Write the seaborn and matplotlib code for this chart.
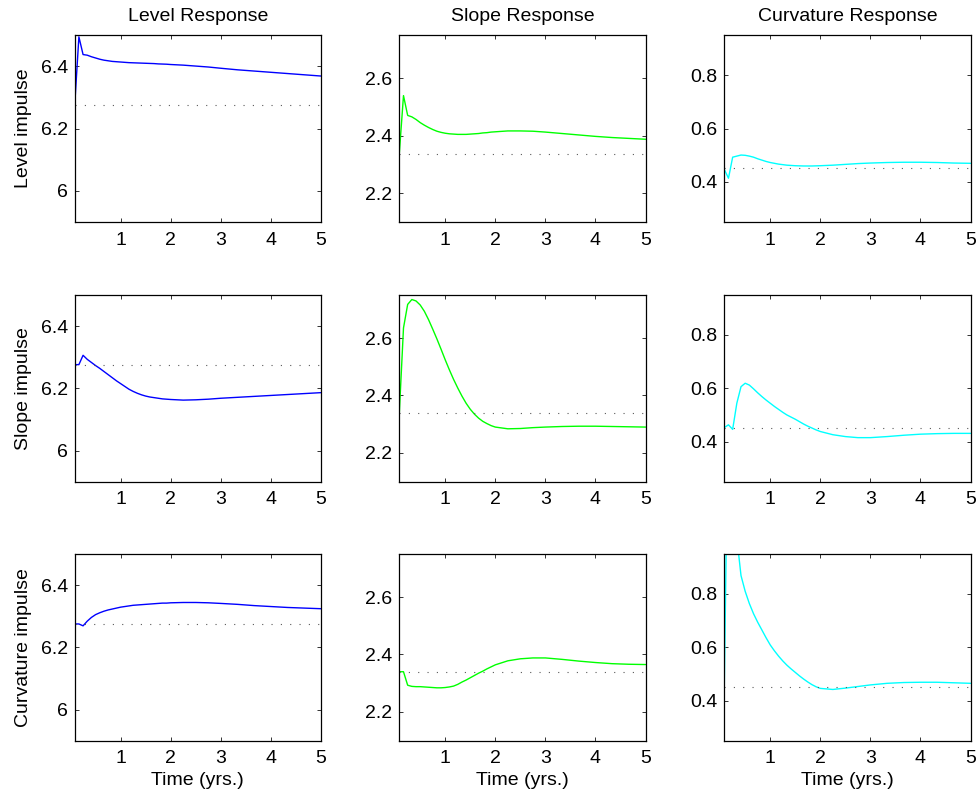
import numpy as np
import matplotlib
matplotlib.use("Agg")
import matplotlib.pyplot as plt
import seaborn as sns

# time grid in months (converted to years below)
months = list(range(1, 25)) + [27, 30, 33, 36, 40, 44, 48, 52, 56, 60]

# level response
level_lvl = [6.276, 6.495, 6.438, 6.436, 6.431, 6.427, 6.423, 6.420, 6.418, 6.416, 6.415, 6.414,
             6.413, 6.412, 6.4115, 6.411, 6.4105, 6.410, 6.4095, 6.409, 6.408, 6.4075, 6.407, 6.406,
             6.404, 6.401, 6.398, 6.394, 6.389, 6.385, 6.381, 6.377, 6.373, 6.369]
slope_lvl = [6.276, 6.276, 6.306, 6.293, 6.283, 6.273, 6.264, 6.254, 6.244, 6.234, 6.224, 6.215,
             6.206, 6.197, 6.190, 6.184, 6.179, 6.175, 6.172, 6.170, 6.168, 6.166, 6.165, 6.164,
             6.162, 6.163, 6.165, 6.168, 6.171, 6.174, 6.177, 6.180, 6.183, 6.186]
curv_lvl = [6.275, 6.275, 6.269, 6.284, 6.296, 6.305, 6.311, 6.316, 6.320, 6.323, 6.326, 6.329,
            6.331, 6.333, 6.335, 6.336, 6.337, 6.338, 6.339, 6.340, 6.341, 6.342, 6.342, 6.343,
            6.344, 6.344, 6.343, 6.341, 6.338, 6.334, 6.331, 6.328, 6.326, 6.324]

# slope response
level_slp = [2.339, 2.540, 2.471, 2.466, 2.457, 2.446, 2.437, 2.429, 2.422, 2.416, 2.412, 2.409,
             2.407, 2.406, 2.405, 2.405, 2.405, 2.406, 2.407, 2.408, 2.410, 2.411, 2.413, 2.414,
             2.417, 2.417, 2.416, 2.413, 2.408, 2.403, 2.398, 2.394, 2.391, 2.388]
slope_slp = [2.339, 2.635, 2.717, 2.734, 2.729, 2.715, 2.693, 2.664, 2.631, 2.597, 2.561, 2.524,
             2.489, 2.456, 2.426, 2.398, 2.373, 2.352, 2.335, 2.321, 2.310, 2.302, 2.295, 2.290,
             2.284, 2.285, 2.288, 2.290, 2.292, 2.293, 2.293, 2.292, 2.291, 2.290]
curv_slp = [2.340, 2.340, 2.293, 2.289, 2.288, 2.288, 2.287, 2.286, 2.285, 2.284, 2.284, 2.285,
            2.287, 2.290, 2.296, 2.304, 2.311, 2.319, 2.327, 2.335, 2.342, 2.350, 2.357, 2.364,
            2.378, 2.385, 2.388, 2.388, 2.383, 2.377, 2.372, 2.368, 2.366, 2.365]

# curvature response
level_crv = [0.447, 0.414, 0.493, 0.497, 0.501, 0.500, 0.497, 0.493, 0.487, 0.482, 0.477, 0.473,
             0.470, 0.467, 0.465, 0.463, 0.462, 0.461, 0.4605, 0.460, 0.460, 0.460, 0.4605, 0.461,
             0.463, 0.466, 0.469, 0.471, 0.473, 0.474, 0.474, 0.473, 0.471, 0.470]
slope_crv = [0.453, 0.463, 0.446, 0.544, 0.606, 0.619, 0.612, 0.598, 0.583, 0.569, 0.556, 0.544,
             0.532, 0.521, 0.510, 0.500, 0.492, 0.484, 0.475, 0.466, 0.458, 0.451, 0.444, 0.438,
             0.426, 0.419, 0.415, 0.415, 0.419, 0.424, 0.428, 0.430, 0.431, 0.431]
curv_crv = [0.456, 1.580, 1.250, 1.010, 0.869, 0.810, 0.764, 0.726, 0.694, 0.665, 0.636, 0.609,
            0.587, 0.567, 0.549, 0.533, 0.519, 0.506, 0.493, 0.481, 0.470, 0.460, 0.452, 0.446,
            0.442, 0.447, 0.453, 0.459, 0.465, 0.468, 0.469, 0.469, 0.467, 0.465]

baselines = [6.275, 2.338, 0.451]
col_titles = ["Level Response", "Slope Response", "Curvature Response"]
row_labels = ["Level impulse", "Slope impulse", "Curvature impulse"]
colors = ["#0000ff", "#00ff00", "#00ffff"]
ylims = [(5.9, 6.5), (2.1, 2.75), (0.25, 0.95)]
yticks = [[6, 6.2, 6.4], [2.2, 2.4, 2.6], [0.4, 0.6, 0.8]]
xticks = [1, 2, 3, 4, 5]

series = [[level_lvl, level_slp, level_crv],
          [slope_lvl, slope_slp, slope_crv],
          [curv_lvl, curv_slp, curv_crv]]

sns.set_style("ticks")
plt.rcParams["font.family"] = ["Liberation Sans", "DejaVu Sans"]
plt.rcParams["xtick.direction"] = "in"
plt.rcParams["ytick.direction"] = "in"
plt.rcParams["xtick.top"] = True
plt.rcParams["ytick.right"] = True
plt.rcParams["text.color"] = "black"
plt.rcParams["axes.labelcolor"] = "black"
plt.rcParams["xtick.labelcolor"] = "black"
plt.rcParams["ytick.labelcolor"] = "black"

t = np.array(months) / 12.0

fig = plt.figure(figsize=(9.78, 7.96), dpi=100)
lefts = [0.0764, 0.4083, 0.7406]
width = 0.2518
bottoms = [0.7211, 0.3949, 0.0695]
height = 0.2346

for r in range(3):
    for c in range(3):
        ax = fig.add_axes([lefts[c], bottoms[r], width, height])
        sns.lineplot(x=t, y=series[r][c], ax=ax, color=colors[c], linewidth=1.0)
        ax.plot([t[0], t[-1]], [baselines[c], baselines[c]], color="0.35",
                linestyle=(0, (1, 7.4)), linewidth=0.8)
        ax.set_xlim(t[0], 5)
        ax.set_ylim(*ylims[c])
        ax.set_xticks(xticks)
        ax.set_yticks(yticks[c])
        ax.set_yticklabels([f"{v:g}" for v in yticks[c]])
        ax.tick_params(labelsize=14, length=3, width=0.7, color="0.2")
        ax.tick_params(axis="x", pad=7)
        ax.tick_params(axis="y", pad=5)
        for s in ax.spines.values():
            s.set_linewidth(0.9)
            s.set_color("black")
        ax.set_xlabel("Time (yrs.)" if r == 2 else "", fontsize=14, labelpad=3)
        if c == 0:
            ax.set_ylabel(row_labels[r], fontsize=14, labelpad=6)
        else:
            ax.set_ylabel("")
        if r == 0:
            ax.set_title(col_titles[c], fontsize=14, pad=10)

fig.savefig("out.png", dpi=100)
